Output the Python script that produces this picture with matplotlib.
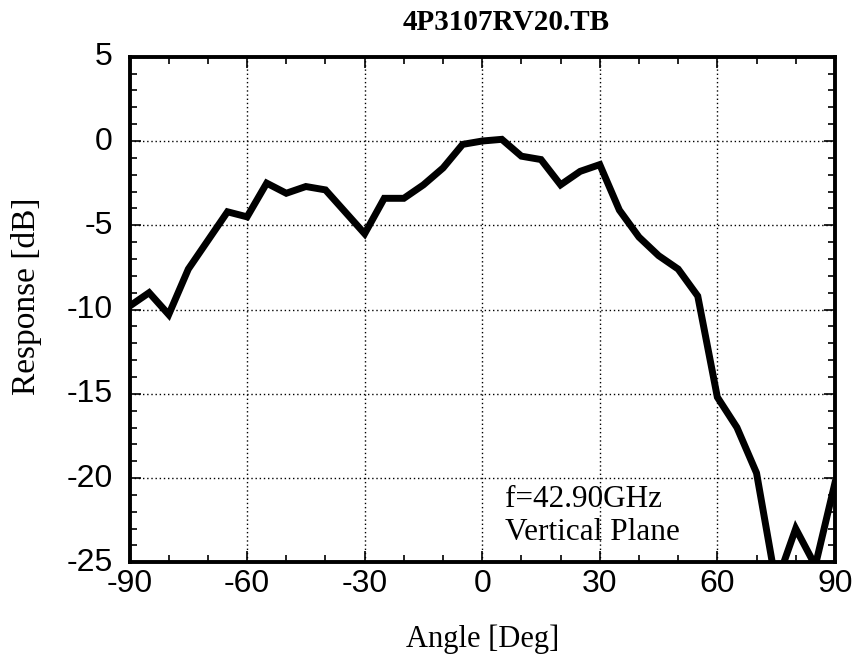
import matplotlib
matplotlib.use("Agg")
import matplotlib.pyplot as plt
import matplotlib.transforms as mtransforms
from matplotlib.ticker import MultipleLocator

plt.rcParams["axes.unicode_minus"] = False

# Measured vertical-plane pattern, 5 degree steps
angles = [-90, -85, -80, -75, -70, -65, -60, -55, -50, -45, -40, -35, -30,
          -25, -20, -15, -10, -5, 0, 5, 10, 15, 20, 25, 30, 35, 40, 45, 50,
          55, 60, 65, 70, 75, 80, 85, 90]
response_db = [-9.8, -9.0, -10.3, -7.6, -5.9, -4.2, -4.5, -2.5, -3.1, -2.7,
               -2.9, -4.2, -5.5, -3.4, -3.4, -2.6, -1.6, -0.2, 0.0, 0.1,
               -0.9, -1.1, -2.6, -1.8, -1.4, -4.1, -5.7, -6.8, -7.6, -9.2,
               -15.2, -17.0, -19.7, -26.3, -23.0, -25.2, -20.3]

title_text = "4P3107RV20.TB"
x_label = "Angle [Deg]"
y_label = "Response [dB]"
note_lines = ["f=42.90GHz", "Vertical Plane"]
x_ticks = [-90, -60, -30, 0, 30, 60, 90]
y_ticks = [5, 0, -5, -10, -15, -20, -25]

serif = ["Liberation Serif", "DejaVu Serif"]
sans = ["Liberation Sans", "DejaVu Sans"]

fig = plt.figure(figsize=(8.55, 6.6), dpi=100)
ax = fig.add_axes([0.1515, 0.148, 0.825, 0.766])

ax.plot(angles, response_db, color="black", linewidth=5.0,
        solid_joinstyle="miter", clip_on=True)

ax.set_xlim(-90, 90)
ax.set_ylim(-25, 5)
ax.set_xticks(x_ticks)
ax.set_yticks(y_ticks)
ax.xaxis.set_minor_locator(MultipleLocator(10))
ax.yaxis.set_minor_locator(MultipleLocator(1))

ax.grid(True, which="major", color="black", linestyle=(0, (1, 2)),
        linewidth=1.0)

ax.tick_params(which="both", direction="in", top=True, right=True,
               width=1.2, color="black")
ax.tick_params(which="major", length=8, labelsize=23)
ax.tick_params(axis="x", which="major", pad=5)
ax.tick_params(axis="y", which="major", pad=12)
ax.tick_params(which="minor", length=5)

# y tick labels sit a little above their ticks
lift = mtransforms.ScaledTranslation(0, 3 / 100, fig.dpi_scale_trans)
for lbl in ax.get_yticklabels():
    lbl.set_family(sans)
    lbl.set_transform(lbl.get_transform() + lift)
for lbl in ax.get_xticklabels():
    lbl.set_family(sans)

for sp in ax.spines.values():
    sp.set_linewidth(2.8)
    sp.set_color("black")

ax.set_xlabel(x_label, fontsize=22, family=serif, labelpad=18)
ax.set_ylabel(y_label, fontsize=24, family=serif)
ax.yaxis.set_label_coords(-0.124, 0.526)
ax.set_title(title_text, fontsize=21, family=serif, fontweight="bold",
             pad=19, x=0.534)

ax.text(0.532, 0.1097, note_lines[0], transform=ax.transAxes,
        fontsize=22.5, family=serif, ha="left", va="baseline")
ax.text(0.532, 0.0445, note_lines[1], transform=ax.transAxes,
        fontsize=22.5, family=serif, ha="left", va="baseline")

fig.savefig("out.png", dpi=100, facecolor="white")
